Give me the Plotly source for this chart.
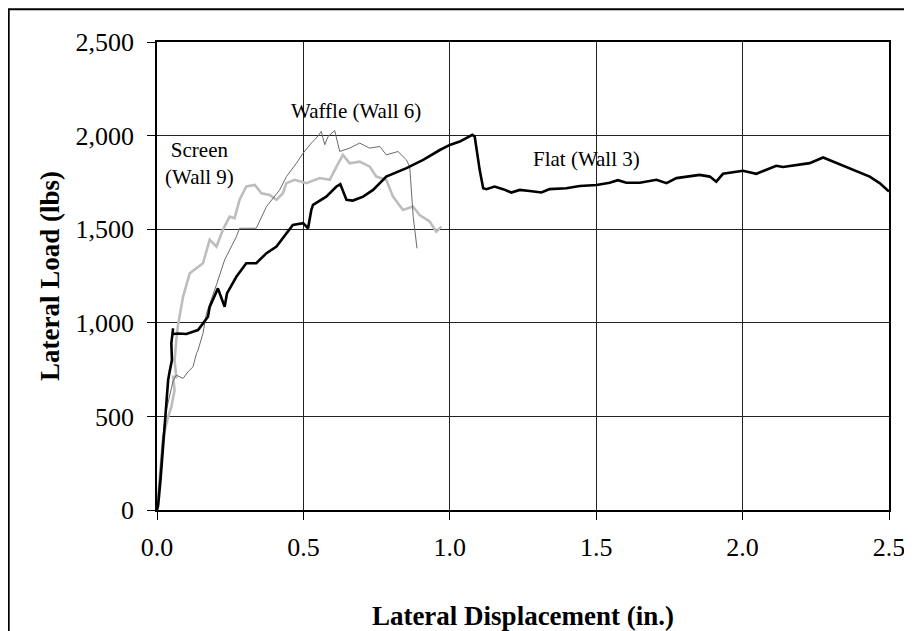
import plotly.graph_objects as go

# Flat (Wall 3) - black thick
flat_x = [0.0, 0.004, 0.012, 0.021, 0.026, 0.032, 0.038, 0.043, 0.051, 0.049, 0.055, 0.053, 0.072, 0.10, 0.14, 0.174,
          0.18, 0.208, 0.231, 0.239, 0.271, 0.305, 0.339, 0.374, 0.408, 0.442, 0.464, 0.499, 0.516, 0.527, 0.533,
          0.578, 0.613, 0.626, 0.647, 0.669, 0.704, 0.738, 0.783, 0.852, 0.909, 0.966, 1.0, 1.034, 1.077, 1.085,
          1.102, 1.114, 1.125, 1.153, 1.182, 1.21, 1.239, 1.273, 1.313, 1.341, 1.398, 1.444, 1.501, 1.546, 1.574,
          1.603, 1.649, 1.706, 1.74, 1.774, 1.819, 1.853, 1.888, 1.91, 1.933, 1.967, 2.001, 2.047, 2.081, 2.115,
          2.138, 2.184, 2.229, 2.275, 2.309, 2.377, 2.434, 2.468, 2.5]
flat_y = [0, 25, 159, 339, 435, 587, 694, 738, 801, 891, 970, 940, 943, 940, 961, 1032,
          1085, 1184, 1086, 1157, 1246, 1318, 1318, 1372, 1407, 1478, 1523, 1532, 1505, 1603, 1630,
          1674, 1728, 1741, 1657, 1653, 1674, 1710, 1781, 1826, 1870, 1923, 1950, 1968, 2004, 1995,
          1817, 1719, 1714, 1728, 1714, 1696, 1710, 1704, 1696, 1714, 1719, 1731, 1736, 1748, 1762,
          1748, 1748, 1764, 1746, 1773, 1784, 1790, 1781, 1754, 1796, 1803, 1812, 1796, 1817, 1839,
          1832, 1844, 1853, 1883, 1862, 1817, 1781, 1746, 1701]

# Waffle (Wall 6) - thin dark gray
waffle_x = [0.0, 0.008, 0.018, 0.03, 0.045, 0.055, 0.066, 0.089, 0.106, 0.123, 0.135, 0.14, 0.157, 0.169, 0.203,
            0.231, 0.271, 0.282, 0.339, 0.374, 0.419, 0.442, 0.476, 0.499, 0.527, 0.544, 0.561, 0.573, 0.584,
            0.607, 0.624, 0.658, 0.692, 0.726, 0.761, 0.783, 0.823, 0.852, 0.863, 0.875, 0.888]
waffle_y = [0, 180, 360, 520, 620, 690, 720, 703, 738, 765, 837, 854, 943, 1051, 1203,
            1336, 1460, 1505, 1505, 1621, 1710, 1781, 1852, 1906, 1960, 1987, 2022, 1951, 1995,
            2027, 1915, 1933, 1960, 1933, 1942, 1897, 1915, 1870, 1834, 1567, 1398]

# Screen (Wall 9) - light gray thick
screen_x = [0.0, 0.01, 0.021, 0.038, 0.049, 0.06, 0.055, 0.066, 0.06, 0.066, 0.072, 0.089, 0.112, 0.157, 0.18,
            0.203, 0.225, 0.248, 0.265, 0.282, 0.305, 0.334, 0.357, 0.385, 0.408, 0.43, 0.442, 0.47, 0.51,
            0.556, 0.59, 0.613, 0.635, 0.658, 0.692, 0.727, 0.749, 0.783, 0.806, 0.84, 0.874, 0.897, 0.931,
            0.954, 0.971]
screen_y = [0, 200, 390, 497, 551, 640, 711, 711, 801, 908, 990, 1140, 1265, 1318, 1444,
            1407, 1497, 1567, 1559, 1657, 1728, 1736, 1692, 1683, 1657, 1692, 1746, 1764, 1746,
            1773, 1764, 1834, 1897, 1852, 1861, 1834, 1781, 1764, 1674, 1603, 1621, 1576, 1541,
            1487, 1514]

x_ticks = [0.0, 0.5, 1.0, 1.5, 2.0, 2.5]
y_ticks = [0, 500, 1000, 1500, 2000, 2500]

FONT = "Liberation Serif, Times New Roman, serif"

fig = go.Figure()
fig.add_trace(go.Scatter(x=screen_x, y=screen_y, mode="lines", name="Screen (Wall 9)",
                         line=dict(color="#bdbdbd", width=2.6)))
fig.add_trace(go.Scatter(x=waffle_x, y=waffle_y, mode="lines", name="Waffle (Wall 6)",
                         line=dict(color="#6a6a6a", width=1)))
fig.add_trace(go.Scatter(x=flat_x, y=flat_y, mode="lines", name="Flat (Wall 3)",
                         line=dict(color="#000000", width=2.6)))

axis_common = dict(showline=True, linecolor="black", linewidth=1.5, mirror=True,
                   ticks="outside", ticklen=8, tickcolor="black", tickwidth=1,
                   showgrid=True, gridcolor="#222222", gridwidth=1, zeroline=False,
                   tickfont=dict(family=FONT, size=26, color="black"))

fig.update_xaxes(range=[0, 2.5], tickvals=x_ticks, ticktext=[f"{v:.1f}" for v in x_ticks],
                 ticklabelstandoff=5,
                 title=dict(text="<b>Lateral Displacement (in.)</b>", standoff=46,
                            font=dict(family=FONT, size=27, color="black")),
                 **axis_common)
fig.update_yaxes(range=[0, 2500], tickvals=y_ticks, ticktext=[f"{v:,}" for v in y_ticks],
                 ticklabelstandoff=8,
                 title=dict(text="<b>Lateral Load (lbs)</b>", standoff=8,
                            font=dict(family=FONT, size=27, color="black")),
                 **axis_common)

ann_font = dict(family=FONT, size=21, color="black")
fig.add_annotation(x=0.681, y=2129, text="Waffle (Wall 6)", showarrow=False, font=ann_font)
fig.add_annotation(x=0.146, y=1849, text="Screen<br>(Wall 9)", showarrow=False, font=ann_font)
fig.add_annotation(x=1.468, y=1874, text="Flat (Wall 3)", showarrow=False, font=ann_font)

# outer frame (runs off the right and bottom edges, as in the original)
fig.add_shape(type="rect", xref="paper", yref="paper", x0=-0.2026, y0=-0.35, x1=1.06, y1=1.0699,
              line=dict(color="black", width=2), layer="below")

fig.update_layout(width=904, height=623, margin=dict(l=149, r=23, t=34, b=121, autoexpand=False),
                  plot_bgcolor="white", paper_bgcolor="white", showlegend=False,
                  font=dict(family=FONT, color="black"))

fig.write_html("out.html")
